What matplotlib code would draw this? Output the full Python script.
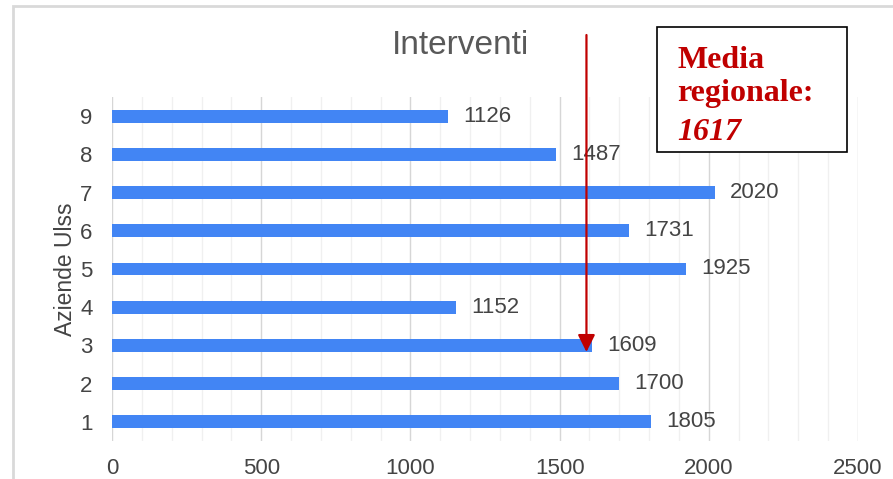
import matplotlib
matplotlib.use("Agg")
import matplotlib.pyplot as plt
from matplotlib.patches import Rectangle
from matplotlib.ticker import MultipleLocator

categories = ["1", "2", "3", "4", "5", "6", "7", "8", "9"]
values = [1805, 1700, 1609, 1152, 1925, 1731, 2020, 1487, 1126]
title = "Interventi"
ylabel = "Aziende Ulss"
x_ticks = [0, 500, 1000, 1500, 2000, 2500]
MEAN = 1617
ARROW_X = 1590

plt.rcParams['font.family'] = ['Liberation Sans', 'DejaVu Sans']
W, H = 893, 479
fig = plt.figure(figsize=(W / 100, H / 100), dpi=100)
fig.patch.set_facecolor("white")

# outer frame
fig.add_artist(Rectangle((13 / W, -0.05), 1.2, 1 - 6 / H + 0.05, transform=fig.transFigure,
                         fill=False, edgecolor="#d9d9d9", lw=2.0, zorder=0))

ax = fig.add_axes([112 / W, 38 / H, 746 / W, 344 / H])
pos = list(range(1, len(categories) + 1))
ax.barh(pos, values, height=0.34, color="#4285F4", zorder=3)
ax.set_xlim(0, 2500)
ax.set_ylim(0.5, len(categories) + 0.5)
ax.set_yticks(pos)
ax.set_yticklabels(categories)
ax.set_xticks(x_ticks)
ax.set_xticklabels([str(t) for t in x_ticks])
ax.xaxis.set_minor_locator(MultipleLocator(100))
ax.grid(axis="x", which="major", color="#d6d6d6", lw=1.0, zorder=0)
ax.grid(axis="x", which="minor", color="#f0f0f0", lw=1.0, zorder=0)
for s in ax.spines.values():
    s.set_visible(False)
ax.tick_params(axis="both", which="both", length=0, labelsize=16, colors="#444444")
ax.tick_params(axis="y", pad=14)
ax.tick_params(axis="x", pad=12)
ax.set_ylabel(ylabel, fontsize=16.5, color="#444444", labelpad=2)

for p, v in zip(pos, values):
    ax.annotate(str(v), xy=(v, p), xytext=(11, 0), textcoords="offset points",
                va="center", ha="left", fontsize=16, color="#444444", zorder=4)

fig.text(460 / W, 1 - 46 / H, title, ha="center", va="center", fontsize=24, color="#595959")

# arrow for regional mean
def py_to_data(py):
    return 0.5 + (441 - py) / (344 / 9)

ax.annotate("", xy=(ARROW_X, py_to_data(352)), xytext=(ARROW_X, py_to_data(35)),
            arrowprops=dict(arrowstyle="-|>", color="#C00000", lw=1.6, mutation_scale=26,
                            shrinkA=0, shrinkB=0),
            annotation_clip=False, zorder=6)

# text box
fig.add_artist(Rectangle((657 / W, 1 - 152 / H), 190 / W, 125 / H, transform=fig.transFigure,
                         facecolor="white", edgecolor="black", lw=1.2, zorder=5))
red = "#C00000"
serif = ['Liberation Serif', 'DejaVu Serif']
fig.text(677 / W, 1 - 68 / H, "Media", family=serif, weight="bold", fontsize=23,
         color=red, va="baseline", ha="left", zorder=6)
fig.text(677 / W, 1 - 101 / H, "regionale:", family=serif, weight="bold", fontsize=23,
         color=red, va="baseline", ha="left", zorder=6)
fig.text(677 / W, 1 - 140 / H, str(MEAN), family=serif, weight="bold", style="italic",
         fontsize=23, color=red, va="baseline", ha="left", zorder=6)

fig.savefig("out.png", dpi=100)
